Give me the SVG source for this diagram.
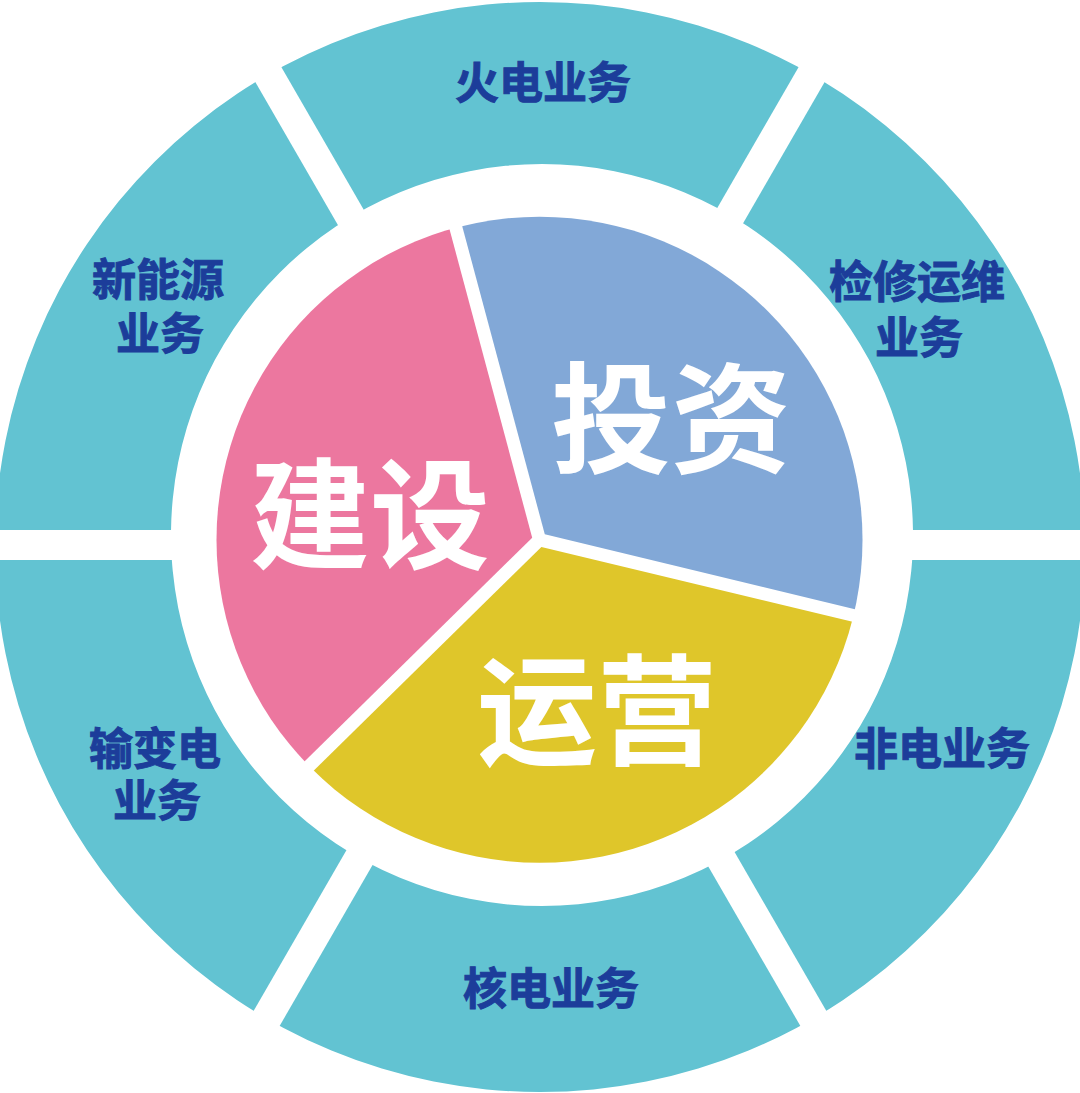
<svg xmlns="http://www.w3.org/2000/svg" xmlns:xlink="http://www.w3.org/1999/xlink" width="1080" height="1093" viewBox="0 0 1080 1093">
<style>
.seg{fill:#62C3D2}
.lbl{font-family:"Noto Sans CJK SC","Noto Sans",sans-serif;font-weight:bold;font-size:44px;fill:#1C3D9A;stroke:#1C3D9A;stroke-width:1;text-anchor:middle}
.big{font-family:"Noto Sans CJK SC","Noto Sans",sans-serif;font-weight:bold;font-size:120px;fill:#FFFFFF;text-anchor:middle}
</style>
<defs>
<path id="ring" fill-rule="evenodd" d="M540,2 A545,545 0 1 1 540,1092 A545,545 0 1 1 540,2 Z M542,164 A371,371 0 1 0 542,906 A371,371 0 1 0 542,164 Z"/>
<circle id="disc" cx="539.5" cy="539.7" r="323"/>
<clipPath id="c-top"><polygon points="540,515 190,-91.2 890,-91.2"/></clipPath>
<clipPath id="c-ur"><polygon points="566,530 916,-76.2 1266,530"/></clipPath>
<clipPath id="c-lr"><polygon points="566,560 1266,560 916,1166.2"/></clipPath>
<clipPath id="c-bot"><polygon points="540,575 890,1181.2 190,1181.2"/></clipPath>
<clipPath id="c-ll"><polygon points="514,560 164,1166.2 -186,560"/></clipPath>
<clipPath id="c-ul"><polygon points="514,530 -186,530 164,-76.2"/></clipPath>
<clipPath id="c-blue"><polygon points="544.8,534.3 337.7,-238.4 1105.5,-36.3 1321,722"/></clipPath>
<clipPath id="c-yellow"><polygon points="541.4,546.9 1318,733.6 748.5,1319.6 -29.2,1107.6"/></clipPath>
<clipPath id="c-pink"><polygon points="532.2,537.7 -38.4,1098.4 -238.7,323.9 325.1,-235"/></clipPath>
</defs>
<rect width="1080" height="1093" fill="#FFFFFF"/>
<g id="ring-segments">
<g id="seg-huodian"><use xlink:href="#ring" class="seg" clip-path="url(#c-top)"/><text class="lbl" x="543" y="99">火电业务</text></g>
<g id="seg-jianxiu"><use xlink:href="#ring" class="seg" clip-path="url(#c-ur)"/><text class="lbl"><tspan x="917" y="298">检修运维</tspan><tspan x="919" y="354">业务</tspan></text></g>
<g id="seg-feidian"><use xlink:href="#ring" class="seg" clip-path="url(#c-lr)"/><text class="lbl" x="942" y="765">非电业务</text></g>
<g id="seg-hedian"><use xlink:href="#ring" class="seg" clip-path="url(#c-bot)"/><text class="lbl" x="551" y="1005">核电业务</text></g>
<g id="seg-shubian"><use xlink:href="#ring" class="seg" clip-path="url(#c-ll)"/><text class="lbl"><tspan x="155" y="765">输变电</tspan><tspan x="157" y="817">业务</tspan></text></g>
<g id="seg-xinnengyuan"><use xlink:href="#ring" class="seg" clip-path="url(#c-ul)"/><text class="lbl"><tspan x="158" y="296">新能源</tspan><tspan x="160" y="350">业务</tspan></text></g>
</g>
<g id="pie">
<g id="slice-touzi"><use xlink:href="#disc" fill="#82A8D7" clip-path="url(#c-blue)"/><text class="big" x="671" y="464">投资</text></g>
<g id="slice-yunying"><use xlink:href="#disc" fill="#DFC62A" clip-path="url(#c-yellow)"/><text class="big" x="597" y="756">运营</text></g>
<g id="slice-jianshe"><use xlink:href="#disc" fill="#EC779F" clip-path="url(#c-pink)"/><text class="big" x="370" y="560">建设</text></g>
</g>
</svg>
